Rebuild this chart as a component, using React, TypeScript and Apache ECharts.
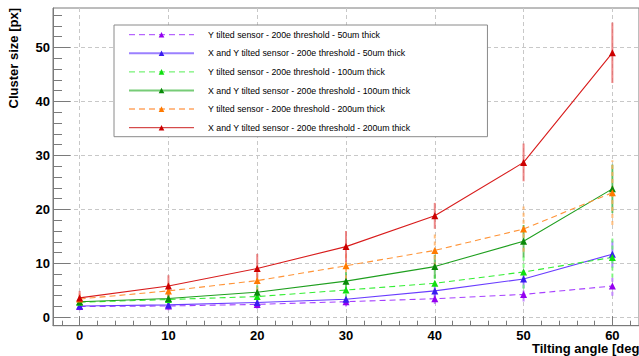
import React, { useEffect, useRef } from "react";
import * as echarts from "echarts";

const angles = [0, 10, 20, 30, 40, 50, 60];

const seriesNames = [
  "Y tilted sensor - 200e threshold - 50um thick",
  "X and Y tilted sensor - 200e threshold - 50um thick",
  "Y tilted sensor - 200e threshold - 100um thick",
  "X and Y tilted sensor - 200e threshold - 100um thick",
  "Y tilted sensor - 200e threshold - 200um thick",
  "X and Y tilted sensor - 200e threshold - 200um thick",
];

const yTilted50 = [2.0, 2.1, 2.4, 2.9, 3.45, 4.25, 5.8];
const xyTilted50 = [2.1, 2.3, 2.75, 3.35, 4.9, 7.1, 11.7];
const yTilted100 = [2.8, 3.3, 3.85, 5.05, 6.3, 8.4, 11.1];
const xyTilted100 = [2.9, 3.5, 4.65, 6.7, 9.4, 14.1, 23.8];
const yTilted200 = [3.4, 4.9, 6.8, 9.55, 12.4, 16.35, 23.1];
const xyTilted200 = [3.6, 5.8, 9.05, 13.1, 18.8, 28.7, 49.0];

const errYTilted50 = [0.7, 0.8, 0.8, 0.9, 1.0, 1.3, 1.8];
const errXYTilted50 = [0.6, 0.7, 0.8, 0.9, 1.2, 1.7, 2.5];
const errYTilted100 = [0.8, 0.9, 1.1, 1.4, 1.8, 3.1, 3.7];
const errXYTilted100 = [0.8, 1.0, 1.3, 1.7, 2.2, 3.0, 4.5];
const errYTilted200 = [1.0, 1.5, 2.0, 2.5, 3.0, 4.2, 6.0];
const errXYTilted200 = [1.3, 2.0, 2.7, 2.9, 2.4, 3.5, 5.6];

const xTickLabels = [0, 10, 20, 30, 40, 50, 60];
const yTickLabels = [0, 10, 20, 30, 40, 50];

const xTitle = "Tilting angle [deg]";
const yTitle = "Cluster size [px]";

const X_MIN = -3;
const X_MAX = 63;
const Y_MIN = -1.55;
const Y_MAX = 57.3;

function minorTicks(lo: number, hi: number, step: number, majors: number[]) {
  const out: number[] = [];
  for (let v = Math.ceil(lo / step) * step; v <= hi; v += step) {
    if (majors.indexOf(v) < 0) out.push(v);
  }
  return out;
}

const styles = [
  { line: "#a640ff", marker: "#9400f0", err: "#b060ff", dashed: true, legendLine: { color: "#a640ff", width: 1, type: [6, 4] } },
  { line: "#6a3dff", marker: "#3a1cf0", err: "#8a66ff", dashed: false, legendLine: { color: "#9b80ff", width: 2, type: "solid" } },
  { line: "#33ee33", marker: "#10e010", err: "#66ff66", dashed: true, legendLine: { color: "#55ee55", width: 1, type: [6, 4] } },
  { line: "#1f9f1f", marker: "#0a8a0a", err: "#44bb44", dashed: false, legendLine: { color: "#77cc77", width: 2, type: "solid" } },
  { line: "#ff9438", marker: "#ff7a00", err: "#ffaa55", dashed: true, legendLine: { color: "#ffbb88", width: 2, type: [6, 4] } },
  { line: "#d81c1c", marker: "#cc0000", err: "#e86060", dashed: false, legendLine: { color: "#cc2222", width: 1, type: "solid" } },
];

const values = [yTilted50, xyTilted50, yTilted100, xyTilted100, yTilted200, xyTilted200];
const errors = [errYTilted50, errXYTilted50, errYTilted100, errXYTilted100, errYTilted200, errXYTilted200];

export default function App() {
  const ref = useRef<HTMLDivElement>(null);

  useEffect(() => {
    document.body.style.margin = "0";
    if (!ref.current) return;
    const chart = echarts.init(ref.current, undefined, { renderer: "svg" });
    const font = "Liberation Sans";
    const axisGray = "#7a7a7a";

    const xMinor = minorTicks(X_MIN, X_MAX, 2, xTickLabels);
    const yMinor = minorTicks(0, Y_MAX, 2, yTickLabels);

    const errorSeries = values.map((vals, s) => ({
      type: "custom",
      name: seriesNames[s] + " err",
      xAxisIndex: 0,
      yAxisIndex: 0,
      z: 1,
      silent: true,
      data: angles.map((a, i) => [a, vals[i] - errors[s][i], vals[i] + errors[s][i]]),
      encode: { x: 0, y: [1, 2] },
      renderItem: (params: any, api: any) => {
        const x = api.value(0);
        const p1 = api.coord([x, api.value(1)]);
        const p2 = api.coord([x, api.value(2)]);
        return {
          type: "line",
          shape: { x1: p1[0], y1: p1[1], x2: p2[0], y2: p2[1] },
          style: {
            stroke: styles[s].err,
            lineWidth: 2,
            opacity: 0.75,
            lineDash: styles[s].dashed ? [4, 3] : null,
          },
        };
      },
    }));

    const lineSeries = values.map((vals, s) => ({
      type: "line",
      name: seriesNames[s],
      xAxisIndex: 0,
      yAxisIndex: 0,
      z: 2,
      data: angles.map((a, i) => [a, vals[i]]),
      symbol: "triangle",
      symbolSize: 7,
      showAllSymbol: true,
      lineStyle: {
        color: styles[s].line,
        width: 1.1,
        type: styles[s].dashed ? [6, 4] : "solid",
      },
      itemStyle: { color: styles[s].marker },
      emphasis: { disabled: true },
    }));

    chart.setOption({
      animation: false,
      backgroundColor: "#ffffff",
      grid: {
        left: 53,
        top: 8,
        width: 588,
        height: 317.7,
        show: true,
        borderColor: axisGray,
        borderWidth: 1,
        backgroundColor: "transparent",
      },
      xAxis: [
        {
          type: "value",
          min: X_MIN,
          max: X_MAX,
          position: "bottom",
          axisLine: { show: true, onZero: false, lineStyle: { color: axisGray, width: 1 } },
          axisTick: { show: true, inside: true, length: 9.5, customValues: xTickLabels, lineStyle: { color: axisGray } },
          axisLabel: {
            customValues: xTickLabels,
            color: "#000",
            fontWeight: "bold",
            fontSize: 13,
            fontFamily: font,
            margin: 3,
          },
          splitLine: { show: true, lineStyle: { color: "#c8c8c8", type: [4, 3], width: 1 } },
        },
        {
          type: "value",
          min: X_MIN,
          max: X_MAX,
          position: "bottom",
          axisLine: { show: false, onZero: false },
          axisTick: { show: true, inside: true, length: 5, customValues: xMinor, lineStyle: { color: axisGray } },
          axisLabel: { show: false },
          splitLine: { show: false },
        },
      ],
      yAxis: [
        {
          type: "value",
          min: Y_MIN,
          max: Y_MAX,
          position: "left",
          axisLine: { show: true, onZero: false, lineStyle: { color: axisGray, width: 1 } },
          axisTick: { show: true, inside: true, length: 17.5, customValues: yTickLabels, lineStyle: { color: axisGray } },
          axisLabel: {
            customValues: yTickLabels,
            color: "#000",
            fontWeight: "bold",
            fontSize: 13,
            fontFamily: font,
            margin: 3,
          },
          splitLine: { show: true, lineStyle: { color: "#c8c8c8", type: [4, 3], width: 1 } },
        },
        {
          type: "value",
          min: Y_MIN,
          max: Y_MAX,
          position: "left",
          axisLine: { show: false, onZero: false },
          axisTick: { show: true, inside: true, length: 9, customValues: yMinor, lineStyle: { color: axisGray } },
          axisLabel: { show: false },
          splitLine: { show: false },
        },
      ],
      legend: {
        orient: "vertical",
        left: 114,
        top: 25,
        padding: [4.7, 77, 4, 14],
        itemWidth: 65,
        itemHeight: 7,
        itemGap: 8.6,
        backgroundColor: "#ffffff",
        borderColor: "#8a8a8a",
        borderWidth: 1,
        borderRadius: 0,
        selectedMode: false,
        textStyle: {
          fontSize: 8.8,
          lineHeight: 10,
          color: "#000",
          fontFamily: font,
          padding: [0, 0, 0, 9],
        },
        data: seriesNames.map((n, s) => ({
          name: n,
          itemStyle: { color: styles[s].marker },
          lineStyle: styles[s].legendLine,
        })),
      },
      graphic: [
        {
          type: "text",
          x: 13.5,
          y: 8,
          rotation: Math.PI / 2,
          style: {
            text: yTitle,
            font: `bold 13px "${font}"`,
            fill: "#000",
            align: "right",
            verticalAlign: "middle",
          },
        },
        {
          type: "text",
          x: 532,
          y: 348,
          style: {
            text: xTitle,
            font: `bold 13px "${font}"`,
            fill: "#000",
            align: "left",
            verticalAlign: "middle",
          },
        },
      ],
      series: [...errorSeries, ...lineSeries],
    });

    return () => chart.dispose();
  }, []);

  return (
    <div
      ref={ref}
      style={{ position: "absolute", left: 0, top: 0, width: 639, height: 356 }}
    />
  );
}
